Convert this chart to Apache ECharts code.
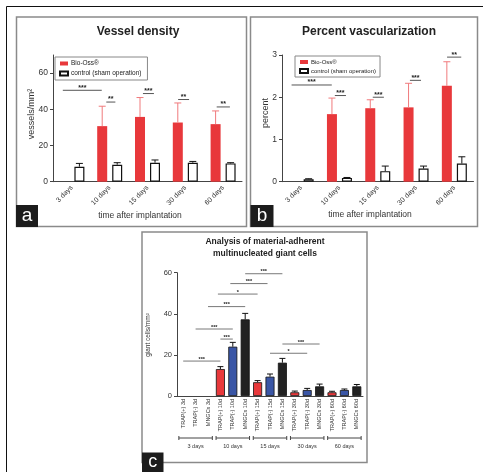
<!DOCTYPE html>
<html><head><meta charset="utf-8">
<script src="https://cdn.jsdelivr.net/npm/echarts@6/dist/echarts.min.js"></script>
<style>html,body{margin:0;padding:0;background:#fff}#c{width:483px;height:472px}</style>
</head><body><div id="c"></div>
<script>
// ---------- data ----------
const timeCats = ['3 days', '10 days', '15 days', '30 days', '60 days'];
const seriesNames = ['Bio-Oss\u00AE', 'control (sham operation)'];

// Panel a: vessel density
const vesselBioOss    = [0, 30.7, 35.8, 32.7, 31.8];
const vesselBioOssErr = [0, 11.0, 10.7, 10.8, 7.3];
const vesselControl    = [8.3, 9.4, 10.5, 10.5, 10.1];
const vesselControlErr = [1.8, 1.1, 1.5, 0.7, 0.4];
const vesselTicks = [0, 20, 40, 60];
// [y, fromCategory, toCategory]
const vesselSig = [[50.5, -0.24, 0.79], [44.0, 0.91, 1.15], [48.7, 1.88, 2.17], [45.4, 2.81, 3.10], [41.3, 3.83, 4.18]];
const vesselSigLabels = ['***', '**', '***', '**', '**'];

// Panel b: percent vascularization
const percBioOss    = [0, 1.60, 1.74, 1.76, 2.27];
const percBioOssErr = [0, 0.38, 0.20, 0.57, 0.57];
const percControl    = [0.06, 0.09, 0.25, 0.31, 0.43];
const percControlErr = [0.01, 0.01, 0.12, 0.06, 0.16];
const percTicks = [0, 1, 2, 3];
const percSig = [[2.29, -0.25, 0.80], [2.04, 0.88, 1.17], [2.00, 1.87, 2.16], [2.40, 2.84, 3.13], [2.95, 3.81, 4.18]];
const percSigLabels = ['***', '***', '***', '***', '**'];

// Panel c: giant cells
const gcCats = ['TRAP(+) 3d', 'TRAP(-) 3d', 'MNGCs 3d',
  'TRAP(+) 10d', 'TRAP(-) 10d', 'MNGCs 10d',
  'TRAP(+) 15d', 'TRAP(-) 15d', 'MNGCs 15d',
  'TRAP(+) 30d', 'TRAP(-) 30d', 'MNGCs 30d',
  'TRAP(+) 60d', 'TRAP(-) 60d', 'MNGCs 60d'];
const gcValues = [0, 0, 0, 13.1, 24.0, 37.3, 6.7, 9.4, 16.2, 1.8, 2.9, 4.7, 1.8, 2.9, 4.7];
const gcErr    = [0, 0, 0, 1.2, 2.1, 2.9, 0.8, 1.3, 2.1, 0.6, 0.8, 1.1, 0.5, 0.5, 0.9];
const gcTicks = [0, 20, 40, 60];
const gcSig = [[17.0, 0, 3], [27.7, 3, 4], [32.6, 1, 4], [43.5, 2, 5], [49.6, 2.8, 6], [54.7, 3.8, 6.8], [59.5, 5, 8], [20.8, 7, 10], [25.3, 8, 11]];
const gcSigLabels = ['***', '***', '***', '***', '*', '***', '***', '*', '***'];
const gcGroups = ['3 days', '10 days', '15 days', '30 days', '60 days'];
const gcGroupSpan = [[-0.35, 2.35], [2.65, 5.35], [5.65, 8.35], [8.65, 11.35], [11.65, 14.35]];

// ---------- styles ----------
const FONT = '"Liberation Sans", Arial, Helvetica, sans-serif';
const RED = '#e8383b', RED_ERR = '#f07a7c', BLUE = '#3a56a6', BLACK = '#222222';
const gcTypeColors = [RED, BLUE, BLACK];

function errRender(offsetPx, color, capW) {
  return function (params, api) {
    const v = api.value(1), e = api.value(2);
    if (!e) return null;
    const p0 = api.coord([api.value(0), v]);
    const p1 = api.coord([api.value(0), v + e]);
    const x = p0[0] + offsetPx;
    return { type: 'group', children: [
      { type: 'line', shape: { x1: x, y1: p0[1], x2: x, y2: p1[1] }, style: { stroke: color, lineWidth: 1 } },
      { type: 'line', shape: { x1: x - capW / 2, y1: p1[1], x2: x + capW / 2, y2: p1[1] }, style: { stroke: color, lineWidth: 1 } }
    ] };
  };
}
function sigRender(labels, fontSize, lw) {
  return function (params, api) {
    const y = api.value(1), a = api.value(2), b = api.value(3);
    const bw = api.size([1, 0])[0];
    const base = api.coord([0, y]);
    const x0 = base[0] + a * bw, x1 = base[0] + b * bw;
    return { type: 'group', children: [
      { type: 'line', shape: { x1: x0, y1: base[1], x2: x1, y2: base[1] }, style: { stroke: '#555', lineWidth: lw } },
      { type: 'text', x: (x0 + x1) / 2, y: base[1] + 1, style: { text: labels[params.dataIndex], fontSize: fontSize, fontFamily: FONT, fontWeight: 'bold', textAlign: 'center', textVerticalAlign: 'bottom', fill: '#222' } }
    ] };
  };
}
function groupRender(labels) {
  return function (params, api) {
    const a = api.value(2), b = api.value(3);
    const bw = api.size([1, 0])[0];
    const base = api.coord([0, 0]);
    const y = base[1] + 42;
    const x0 = base[0] + a * bw, x1 = base[0] + b * bw;
    const st = { stroke: '#444', lineWidth: 1 };
    return { type: 'group', children: [
      { type: 'line', shape: { x1: x0, y1: y, x2: x1, y2: y }, style: st },
      { type: 'line', shape: { x1: x0, y1: y - 2, x2: x0, y2: y + 2 }, style: st },
      { type: 'line', shape: { x1: x1, y1: y - 2, x2: x1, y2: y + 2 }, style: st },
      { type: 'text', x: (x0 + x1) / 2, y: y + 8, style: { text: labels[params.dataIndex], fontSize: 5.5, fontFamily: FONT, textAlign: 'center', textVerticalAlign: 'middle', fill: '#333' } }
    ] };
  };
}
const tri = (vals, errs) => vals.map((v, i) => [i, v, errs[i]]);
const sigData = (arr) => arr.map(s => [0, s[0], s[1], s[2]]);
const noZero = (vals) => vals.map(v => (v === 0 ? '-' : v));

function catAxis(gi, data, rotate, fs, margin) {
  return { type: 'category', gridIndex: gi, data: data,
    axisLine: { lineStyle: { color: '#444', width: 1 } },
    axisTick: { show: false },
    axisLabel: { rotate: rotate, fontSize: fs, margin: margin, interval: 0, color: '#333', fontFamily: FONT } };
}
function valAxis(gi, max, interval, ticks, fs) {
  return { type: 'value', gridIndex: gi, min: 0, max: max, interval: interval,
    splitLine: { show: false },
    axisLine: { show: true, lineStyle: { color: '#444', width: 1 } },
    axisTick: { show: true, length: 3, lineStyle: { color: '#444' }, customValues: ticks },
    axisLabel: { fontSize: fs, margin: 5, color: '#333', fontFamily: FONT, customValues: ticks } };
}

const chart = echarts.init(document.getElementById('c'), null, { renderer: 'canvas' });
const txt = (x, y, text, fs, extra) => Object.assign({ type: 'text', x: x, y: y, style: Object.assign({ text: text, fontSize: fs, fontFamily: FONT, fill: '#222', textAlign: 'center', textVerticalAlign: 'middle' }, extra || {}) });

chart.setOption({
  backgroundColor: '#fff',
  animation: false,
  grid: [
    { left: 53, top: 55, width: 189, height: 126.7, outerBoundsMode: 'none' },
    { left: 282, top: 55, width: 191.5, height: 126.7, outerBoundsMode: 'none' },
    { left: 177, top: 272.7, width: 186, height: 123.3, outerBoundsMode: 'none' }
  ],
  xAxis: [
    catAxis(0, timeCats, 45, 7, 5),
    catAxis(1, timeCats, 45, 7, 5),
    catAxis(2, gcCats, 90, 5.5, 3)
  ],
  yAxis: [
    valAxis(0, 70, 20, vesselTicks, 8.5),
    valAxis(1, 3, 1, percTicks, 8.5),
    valAxis(2, 60, 20, gcTicks, 7.5)
  ],
  legend: [
    { data: seriesNames, left: 55, top: 57, orient: 'vertical', icon: 'rect', itemWidth: 8, itemHeight: 4, itemGap: 3,
      borderColor: '#888', borderWidth: 1, padding: [3, 6, 3, 4], selectedMode: false,
      textStyle: { fontSize: 6.5, color: '#222', fontFamily: FONT, padding: [0, 0, 0, -2] } },
    { data: seriesNames, left: 295, top: 56, orient: 'vertical', icon: 'rect', itemWidth: 8, itemHeight: 4, itemGap: 3,
      borderColor: '#888', borderWidth: 1, padding: [3, 4, 3, 4], selectedMode: false,
      textStyle: { fontSize: 6, color: '#222', fontFamily: FONT, padding: [0, 0, 0, -2] } }
  ],
  series: [
    { name: seriesNames[0], type: 'bar', xAxisIndex: 0, yAxisIndex: 0, data: noZero(vesselBioOss), barWidth: 10, barGap: '50%', itemStyle: { color: RED } },
    { name: seriesNames[1], type: 'bar', xAxisIndex: 0, yAxisIndex: 0, data: noZero(vesselControl), barWidth: 10, barGap: '50%', itemStyle: { color: '#fff', borderColor: '#111', borderWidth: 1.2 } },
    { name: 'errA1', type: 'custom', xAxisIndex: 0, yAxisIndex: 0, data: tri(vesselBioOss, vesselBioOssErr), renderItem: errRender(-7.5, RED_ERR, 7), encode: { x: 0, y: 1 }, clip: false, z: 3 },
    { name: 'errA2', type: 'custom', xAxisIndex: 0, yAxisIndex: 0, data: tri(vesselControl, vesselControlErr), renderItem: errRender(7.5, '#111', 7), encode: { x: 0, y: 1 }, clip: false, z: 3 },
    { name: 'sigA', type: 'custom', xAxisIndex: 0, yAxisIndex: 0, data: sigData(vesselSig), renderItem: sigRender(vesselSigLabels, 7, 1), encode: { x: 0, y: 1 }, clip: false, z: 3 },

    { name: seriesNames[0], type: 'bar', xAxisIndex: 1, yAxisIndex: 1, data: noZero(percBioOss), barWidth: 10, barGap: '50%', itemStyle: { color: RED } },
    { name: seriesNames[1], type: 'bar', xAxisIndex: 1, yAxisIndex: 1, data: noZero(percControl), barWidth: 10, barGap: '50%', itemStyle: { color: '#fff', borderColor: '#111', borderWidth: 1.2 } },
    { name: 'errB1', type: 'custom', xAxisIndex: 1, yAxisIndex: 1, data: tri(percBioOss, percBioOssErr), renderItem: errRender(-7.5, RED_ERR, 7), encode: { x: 0, y: 1 }, clip: false, z: 3 },
    { name: 'errB2', type: 'custom', xAxisIndex: 1, yAxisIndex: 1, data: tri(percControl, percControlErr), renderItem: errRender(7.5, '#111', 7), encode: { x: 0, y: 1 }, clip: false, z: 3 },
    { name: 'sigB', type: 'custom', xAxisIndex: 1, yAxisIndex: 1, data: sigData(percSig), renderItem: sigRender(percSigLabels, 7, 1), encode: { x: 0, y: 1 }, clip: false, z: 3 },

    { name: 'giant cells', type: 'bar', xAxisIndex: 2, yAxisIndex: 2, barWidth: 9,
      data: gcValues.map((v, i) => (v === 0 ? '-' : { value: v, itemStyle: { color: gcTypeColors[i % 3] } })),
      itemStyle: { borderColor: '#111', borderWidth: 0.8 } },
    { name: 'errC', type: 'custom', xAxisIndex: 2, yAxisIndex: 2, data: tri(gcValues, gcErr), renderItem: errRender(0, '#111', 6), encode: { x: 0, y: 1 }, clip: false, z: 3 },
    { name: 'sigC', type: 'custom', xAxisIndex: 2, yAxisIndex: 2, data: sigData(gcSig), renderItem: sigRender(gcSigLabels, 5.5, 0.8), encode: { x: 0, y: 1 }, clip: false, z: 3 },
    { name: 'groupsC', type: 'custom', xAxisIndex: 2, yAxisIndex: 2, data: gcGroupSpan.map(g => [0, 0, g[0], g[1]]), renderItem: groupRender(gcGroups), encode: { x: 0, y: 1 }, clip: false, z: 3 }
  ],
  graphic: [
    { type: 'rect', shape: { x: 6.5, y: 6.5, width: 500, height: 500 }, style: { fill: null, stroke: '#111', lineWidth: 1 }, z: -10 },
    { type: 'rect', shape: { x: 16.5, y: 17, width: 230, height: 209.5 }, style: { fill: null, stroke: '#8a8a8a', lineWidth: 1.5 }, z: -9 },
    { type: 'rect', shape: { x: 250.5, y: 17, width: 227, height: 209.5 }, style: { fill: null, stroke: '#8a8a8a', lineWidth: 1.5 }, z: -9 },
    { type: 'rect', shape: { x: 142, y: 232, width: 225, height: 230.5 }, style: { fill: null, stroke: '#8a8a8a', lineWidth: 1.5 }, z: -9 },
    // titles
    txt(138, 31.5, 'Vessel density', 12, { fontWeight: 'bold' }),
    txt(369, 31.5, 'Percent vascularization', 12, { fontWeight: 'bold' }),
    txt(265, 242, 'Analysis of material-adherent', 8.5, { fontWeight: 'bold' }),
    txt(265, 253.5, 'multinucleated giant cells', 8.5, { fontWeight: 'bold' }),
    // axis names
    txt(140, 216, 'time after implantation', 8.5, { fill: '#333' }),
    txt(370, 215, 'time after implantation', 8.5, { fill: '#333' }),
    Object.assign(txt(0, 0, 'vessels/mm\u00B2', 9, { fill: '#333' }), { x: 31.5, y: 114, rotation: Math.PI / 2 }),
    Object.assign(txt(0, 0, 'percent', 9, { fill: '#333' }), { x: 266, y: 113, rotation: Math.PI / 2 }),
    Object.assign(txt(0, 0, 'giant cells/mm\u00B2', 6.5, { fill: '#333' }), { x: 148.5, y: 335, rotation: Math.PI / 2 }),
    // panel letters
    { type: 'rect', shape: { x: 16, y: 205, width: 22, height: 22 }, style: { fill: '#1c1c1c' }, z: 10 },
    { type: 'rect', shape: { x: 250.5, y: 205, width: 23, height: 22 }, style: { fill: '#1c1c1c' }, z: 10 },
    { type: 'rect', shape: { x: 142, y: 452.5, width: 21.5, height: 19.5 }, style: { fill: '#1c1c1c' }, z: 10 },
    Object.assign(txt(27, 216, 'a', 19, { fill: '#fff' }), { z: 11 }),
    Object.assign(txt(262, 215.5, 'b', 19, { fill: '#fff' }), { z: 11 }),
    Object.assign(txt(152.8, 462.5, 'c', 18, { fill: '#fff' }), { z: 11 })
  ]
});
</script>
</body></html>
